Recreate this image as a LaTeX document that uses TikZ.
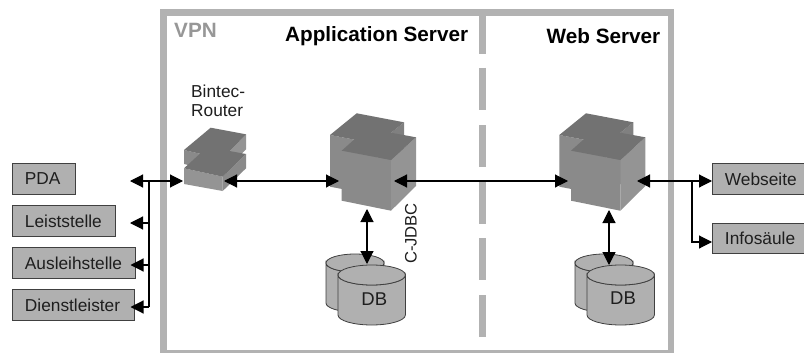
\documentclass[tikz,border=0pt]{standalone}
\usepackage{fontspec}
\setmainfont{Liberation Sans}
\usetikzlibrary{arrows.meta}
\definecolor{frameg}{HTML}{B2B2B2}
\definecolor{boxg}{HTML}{B0B0B0}
\definecolor{edgeg}{HTML}{404040}
\definecolor{topg}{HTML}{727272}
\definecolor{frontg}{HTML}{8A8A8A}
\definecolor{sideg}{HTML}{949494}
\definecolor{inkg}{HTML}{1E1E1E}
\tikzset{
  x=1pt,y=-1pt,
  devicebox/.style={draw=edgeg,line width=0.9pt,fill=boxg,anchor=north west,minimum height=#1,
    inner xsep=12.5pt,inner ysep=0pt,align=left,font=\fontsize{17.3}{19}\selectfont,text=inkg},
  devicebox/.default=31pt,
  frameline/.style={frameg,line width=6.5pt},
  dashline/.style={frameg,line width=6.5pt},
  link/.style={draw=black,line width=1.1pt,{Triangle[length=13pt,width=13pt]}-{Triangle[length=13pt,width=13pt]}},
  linkhead/.style={draw=black,line width=1.1pt,-{Triangle[length=13pt,width=13pt]}},
  plainlink/.style={draw=black,line width=1.1pt},
  title/.style={font=\fontsize{20.7}{22}\selectfont\bfseries,text=black,inner sep=0pt},
  note/.style={font=\fontsize{17.3}{19}\selectfont,text=inkg,inner sep=0pt},
  dblabel/.style={font=\fontsize{18.5}{20}\selectfont,text=inkg,inner sep=0pt},
  disk/.style={fill=boxg,draw=edgeg,line width=0.8pt},
  pics/server/.style={code={
    % origin at the left corner of the back cube
    \fill[frontg] (0,0) -- (47.3,9) -- (47.3,60.7) -- (0,51.7) -- cycle;
    \fill[topg!60!sideg] (47.3,9) -- (74,-12.7) -- (74,38.3) -- (47.3,60.7) -- cycle;
    \fill[topg] (0,0) -- (26.7,-21.7) -- (74,-12.7) -- (47.3,9) -- cycle;
    \fill[frontg] (11.7,15.7) -- (61,25) -- (61,75.7) -- (11.7,65.7) -- cycle;
    \fill[sideg] (61,25) -- (86,2.3) -- (86,51) -- (61,75.7) -- cycle;
    \fill[topg] (11.7,15.7) -- (36.7,-6.7) -- (86,2.3) -- (61,25) -- cycle;
  }},
  pics/router/.style={code={
    % origin at the left corner of the upper slab
    \fill[frontg] (0,0) -- (38,9) -- (38,23) -- (0,14) -- cycle;
    \fill[sideg] (38,9) -- (62,-15.7) -- (62,-0.7) -- (38,23) -- cycle;
    \fill[topg] (0,0) -- (26.7,-22.3) -- (62,-15.7) -- (38,9) -- cycle;
    \fill[sideg] (0,18.3) -- (38.7,26.7) -- (38.7,41) -- (0,34) -- cycle;
    \fill[frontg] (38.7,26.7) -- (62,4) -- (62,18.3) -- (38.7,41) -- cycle;
    \fill[topg] (0,18.3) -- (23.3,-3) -- (62,4) -- (38.7,26.7) -- cycle;
  }},
  pics/dbstack/.style={code={
    % origin at the top centre of the back disk
    \draw[disk] (-29,0) -- (-29,40) arc[start angle=180,end angle=0,x radius=29,y radius=9] -- (29,0)
       arc[start angle=0,end angle=180,x radius=29,y radius=9] -- cycle;
    \draw[disk] (0,0) ellipse[x radius=29,y radius=9];
    \draw[disk] (-17,12) -- (-17,52) arc[start angle=180,end angle=0,x radius=33.7,y radius=10] -- (50.4,12)
       arc[start angle=0,end angle=180,x radius=33.7,y radius=10] -- cycle;
    \draw[disk] (16.7,12) ellipse[x radius=33.7,y radius=10];
  }}
}
\begin{document}
\begin{tikzpicture}
\useasboundingbox (0,0) rectangle (804,353);
\fill[white] (0,0) rectangle (804,353);
% VPN frame
\draw[frameline] (163.5,12.3) rectangle (670.8,353.2);
\foreach \ya/\yb in {12/54,68/110,125/167,182/224,238/280,295/337}
  \draw[dashline] (482.3,\ya) -- (482.3,\yb);
% headings
\node[title,text=frameg!85!black,anchor=west] (vpn) at (174,30.5) {VPN};
\node[title,anchor=west] (apptitle) at (285,36.5) {Application Server};
\node[title,anchor=west] (webtitle) at (546.5,36.5) {Web Server};
\node[note,anchor=north west,align=left] (routerlabel) at (191,84.5) {Bintec-\\Router};
\node[note,font=\fontsize{16.6}{18}\selectfont,rotate=90] (jdbc) at (411,233.5) {C-JDBC};
% left and right boxes
\node[devicebox,text width=38pt] (pda) at (12,163) {PDA};
\node[devicebox,text width=78pt] (leit) at (12,205) {Leiststelle};
\node[devicebox,text width=98pt] (aus) at (12,247) {Ausleihstelle};
\node[devicebox,text width=97pt] (dienst) at (12,289) {Dienstleister};
\node[devicebox,text width=79pt] (webseite) at (712,163) {Webseite};
\node[devicebox,minimum height=30pt,text width=79pt] (infos) at (712,223) {Infosäule};
% devices
\pic (routerdev) at (184,150) {router};
\pic (appdev) at (330,135) {server};
\pic (webdev) at (559.3,135) {server};
\pic (appdb) at (355,263) {dbstack};
\pic (webdb) at (604,263) {dbstack};
\node[dblabel] (appdblabel) at (374.3,299) {DB};
\node[dblabel] (webdblabel) at (623,298.5) {DB};
% connector ends
\coordinate (pdatip) at (130,181);
\coordinate (leittip) at (130,223);
\coordinate (austip) at (130.5,265);
\coordinate (diensttip) at (130.5,307);
\coordinate (j1) at (149,181);
\coordinate (j2) at (149,223);
\coordinate (j3) at (149,265);
\coordinate (j4) at (149,307);
\coordinate (routerin) at (183,181);
\coordinate (routerout) at (224,181);
\coordinate (appin) at (339,181);
\coordinate (appout) at (394,181);
\coordinate (webin) at (568,181);
\coordinate (webout) at (637,181);
\coordinate (j5) at (692,181);
\coordinate (webseitetip) at (712,181);
\coordinate (infostip) at (712,242);
\coordinate (apptop) at (367,209);
\coordinate (appbot) at (367,264);
\coordinate (webtop) at (609,210);
\coordinate (webbot) at (609,265);
% connectors
\draw[link] (pdatip) -- (routerin);
\draw[linkhead] (j2) -- (leittip);
\draw[linkhead] (j3) -- (austip);
\draw[linkhead] (j4) -- (diensttip);
\draw[plainlink] (j1) -- (j4);
\draw[link] (routerout) -- (appin);
\draw[link] (appout) -- (webin);
\draw[link] (webout) -- (webseitetip);
\draw[linkhead] (j5) |- (infostip);
\draw[link] (apptop) -- (appbot);
\draw[link] (webtop) -- (webbot);
\end{tikzpicture}
\end{document}
